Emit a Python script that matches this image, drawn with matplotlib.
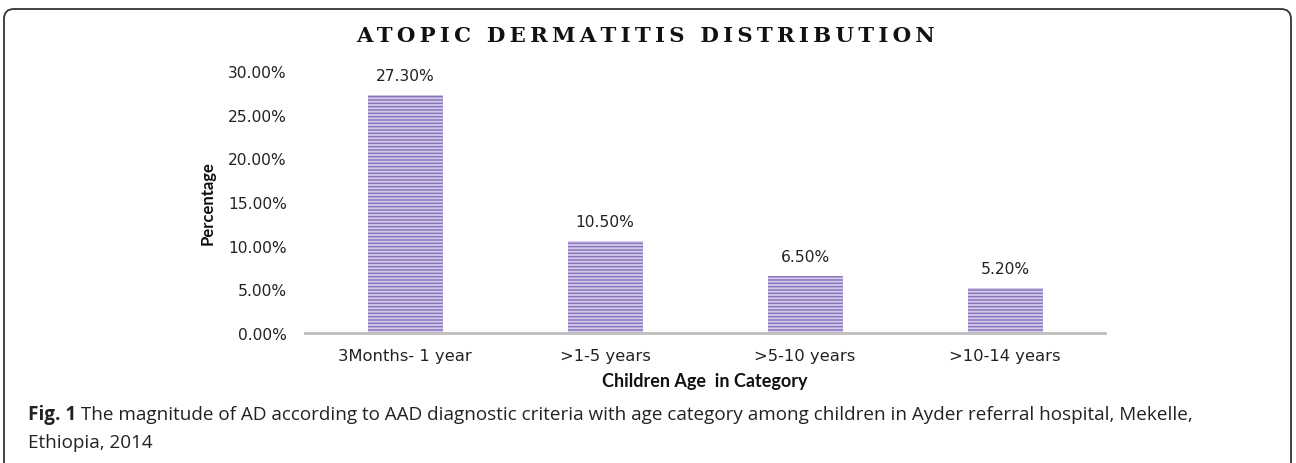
"""Atopic dermatitis distribution by age category (bar chart with caption)."""

import matplotlib
matplotlib.use("Agg")
import matplotlib.pyplot as plt
from matplotlib.patches import FancyBboxPatch

categories = ["3Months- 1 year", ">1-5 years", ">5-10 years", ">10-14 years"]
percentages = [27.3, 10.5, 6.5, 5.2]
y_ticks = [0, 5, 10, 15, 20, 25, 30]

title = "ATOPIC DERMATITIS DISTRIBUTION"
caption_bold = "Fig. 1"
caption_line1 = (" The magnitude of AD according to AAD diagnostic criteria with age "
                 "category among children in Ayder referral hospital, Mekelle,")
caption_line2 = "Ethiopia, 2014"

plt.rcParams['font.family'] = ['DejaVu Sans']
plt.rcParams['hatch.linewidth'] = 1.3

W, H = 1296, 464
fig = plt.figure(figsize=(W / 100, H / 100), dpi=100)

# background layer in pixel coords: frame, title, caption
bg = fig.add_axes([0, 0, 1, 1])
bg.set_xlim(0, W)
bg.set_ylim(H, 0)
bg.axis('off')
bg.add_patch(FancyBboxPatch((4, 10), 1287, 520,
                            boxstyle="round,pad=0,rounding_size=10",
                            facecolor='none', edgecolor='#333333', linewidth=1.3))

spaced_title = "\u2009".join(title)
bg.text(646, 36, spaced_title, ha='center', va='center', fontsize=15.3,
        fontweight='bold', family=['DejaVu Serif'], color='#111111')

cap_font = ['Open Sans', 'DejaVu Sans']
t1 = bg.text(28, 415, caption_bold, ha='left', va='center', fontsize=13.6,
             fontweight='bold', family=cap_font, color='#222222')
bg.annotate(caption_line1, xy=(1, 0.5), xycoords=t1, ha='left', va='center',
            fontsize=13.6, family=cap_font, color='#222222')
bg.text(28, 443, caption_line2, ha='left', va='center', fontsize=13.6,
        family=cap_font, color='#222222')

# main chart
ax = fig.add_axes([305 / W, 1 - 334 / H, 800 / W, 262 / H])
x = range(len(categories))
bars = ax.bar(x, percentages, width=0.375, color='#8a76bd', edgecolor='#d4cbea',
              hatch='-----', linewidth=0)

for b, v in zip(bars, percentages):
    ax.annotate(f"{v:.2f}%", xy=(b.get_x() + b.get_width() / 2, v),
                xytext=(0, 14), textcoords='offset points',
                ha='center', va='center', fontsize=11.2, color='#222222')

ax.set_xlim(-0.5, len(categories) - 0.5)
ax.set_ylim(0, 30)
ax.set_yticks(y_ticks)
ax.set_yticklabels([f"{t:.2f}%" for t in y_ticks], fontsize=11.2, color='#222222')
ax.set_xticks(list(x))
ax.set_xticklabels(categories, fontsize=11.8, color='#222222')
ax.tick_params(axis='y', length=0, pad=13)
ax.tick_params(axis='x', length=0, pad=11)

for side in ['top', 'right', 'left']:
    ax.spines[side].set_visible(False)
ax.spines['bottom'].set_color('#bfbfbf')
ax.spines['bottom'].set_linewidth(2)

ax.set_xlabel("Children Age  in Category", fontsize=13, fontweight='bold',
              family=['Lato', 'DejaVu Sans'], color='#111111', labelpad=6)
ax.set_ylabel("Percentage", fontsize=12, fontweight='bold',
              family=['Lato', 'DejaVu Sans'], color='#111111', labelpad=9)

fig.savefig('out.png', dpi=100)
plt.close(fig)
